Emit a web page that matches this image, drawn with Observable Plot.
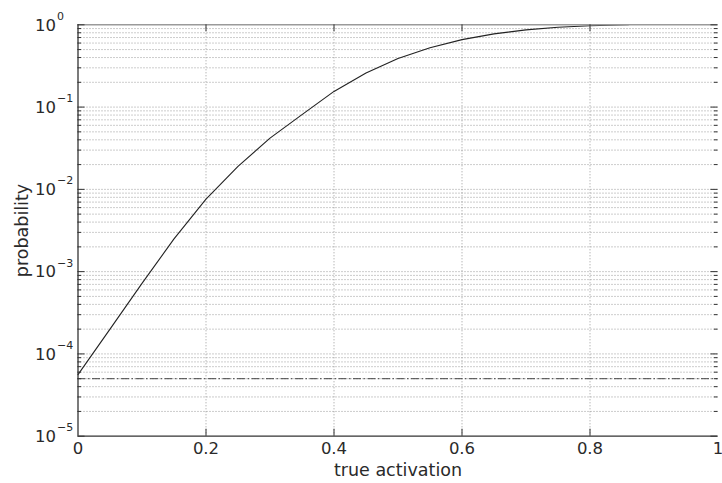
<!DOCTYPE html>
<html>
<head>
<meta charset="utf-8">
<script src="https://cdn.jsdelivr.net/npm/d3@7"></script>
<script src="https://cdn.jsdelivr.net/npm/@observablehq/plot@0.6"></script>
<style>
  html, body { margin: 0; padding: 0; background: #fff; }
  #chart svg { display: block; }
</style>
</head>
<body>
<div id="chart"></div>
<script>
// ---- data ----
const activation  = [0, 0.05, 0.10, 0.15, 0.20, 0.25, 0.30, 0.35, 0.40, 0.45, 0.50, 0.55, 0.60, 0.65, 0.70, 0.75, 0.80, 0.86];
const probability = [5.6e-5, 2.0e-4, 7.2e-4, 2.5e-3, 7.6e-3, 0.019, 0.042, 0.081, 0.155, 0.26, 0.39, 0.525, 0.66, 0.776, 0.867, 0.933, 0.973, 1.0];
const floorLevel = 5e-5;               // dash-dot reference line
const xTicks = [0, 0.2, 0.4, 0.6, 0.8, 1];
const xTickLabels = ["0", "0.2", "0.4", "0.6", "0.8", "1"];
const yDecades = [-5, -4, -3, -2, -1, 0];
const xLabel = "true activation";
const yLabel = "probability";

// ---- derived tables ----
const curve = activation.map((a, i) => ({a, p: probability[i]}));
const majorY = yDecades.map(d => 10 ** d);
const minorY = [];
for (const d of yDecades.slice(0, -1)) for (let m = 2; m <= 9; m++) minorY.push(m * 10 ** d);
const innerX = xTicks.slice(1, -1);
const xMin = 0, xMax = 1, yMin = 1e-5, yMax = 1;
const majLen = 0.011, minLen = 0.0055;      // tick length as fraction of x domain
const tickDec = 0.085;                      // x-tick length in decades

const font = "DejaVu Sans, Verdana, sans-serif";
const ink = "#2a2a2a";
const gridStyle = {stroke: "#808080", strokeWidth: 0.8, strokeDasharray: "1,2"};

const chart = Plot.plot({
  width: 722,
  height: 483,
  marginLeft: 77.5,
  marginRight: 4.5,
  marginTop: 24.3,
  marginBottom: 47.3,
  style: {fontFamily: font, background: "#fff"},
  x: {domain: [xMin, xMax], axis: null},
  y: {type: "log", domain: [yMin, yMax], axis: null},
  marks: [
    // grid
    Plot.ruleY(minorY, {...gridStyle}),
    Plot.ruleY(majorY.slice(1, -1), {...gridStyle}),
    Plot.ruleX(innerX, {...gridStyle}),
    // dash-dot level
    Plot.ruleY([floorLevel], {stroke: "#333", strokeWidth: 0.9, strokeDasharray: "8,2.5,1.5,2.5"}),
    // curve
    Plot.line(curve, {x: "a", y: "p", stroke: "#222", strokeWidth: 1.1}),
    // frame
    Plot.ruleY([yMax], {stroke: "#9a9a9a", strokeWidth: 1.5}),
    Plot.ruleX([xMin], {stroke: "#333", strokeWidth: 1.3}),
    Plot.ruleY([yMin], {stroke: "#333", strokeWidth: 1.3}),
    // inward y ticks (left & right)
    Plot.ruleY(majorY, {x1: xMin, x2: xMin + majLen, stroke: "#333", strokeWidth: 1}),
    Plot.ruleY(minorY, {x1: xMin, x2: xMin + minLen, stroke: "#333", strokeWidth: 1}),
    Plot.ruleY(majorY, {x1: xMax - majLen, x2: xMax, stroke: "#333", strokeWidth: 1}),
    Plot.ruleY(minorY, {x1: xMax - minLen, x2: xMax, stroke: "#333", strokeWidth: 1}),
    // inward x ticks (bottom & top)
    Plot.ruleX(innerX, {y1: yMin, y2: yMin * 10 ** tickDec, stroke: "#333", strokeWidth: 1}),
    Plot.ruleX(innerX, {y1: yMax / 10 ** tickDec, y2: yMax, stroke: "#333", strokeWidth: 1}),
    // y tick labels: 10 with superscript exponent
    Plot.text(yDecades, {x: xMin, y: d => 10 ** d, text: () => "10", textAnchor: "end", dx: -22, dy: 0.5,
      fontSize: 16.5, fill: ink, fontFamily: font}),
    Plot.text(yDecades, {x: xMin, y: d => 10 ** d, text: d => d === 0 ? "0" : "\u2212" + (-d), textAnchor: "start",
      dx: -21, dy: -8.5, fontSize: 11, fill: ink, fontFamily: font}),
    // x tick labels
    Plot.text(xTicks, {x: d => d, y: yMin, text: (d, i) => xTickLabels[i], dy: 13, fontSize: 16.5, fill: ink, fontFamily: font}),
    // axis titles
    Plot.text([xLabel], {frameAnchor: "bottom", dy: 34, lineAnchor: "middle", textAnchor: "middle", text: d => d,
      fontSize: 17.5, fill: ink, fontFamily: font}),
    Plot.text([yLabel], {frameAnchor: "left", dx: -55.5, rotate: -90, lineAnchor: "middle", textAnchor: "middle",
      text: d => d, fontSize: 17.5, fill: ink, fontFamily: font, letterSpacing: "0.6px"})
  ]
});
document.getElementById("chart").appendChild(chart);
</script>
</body>
</html>
